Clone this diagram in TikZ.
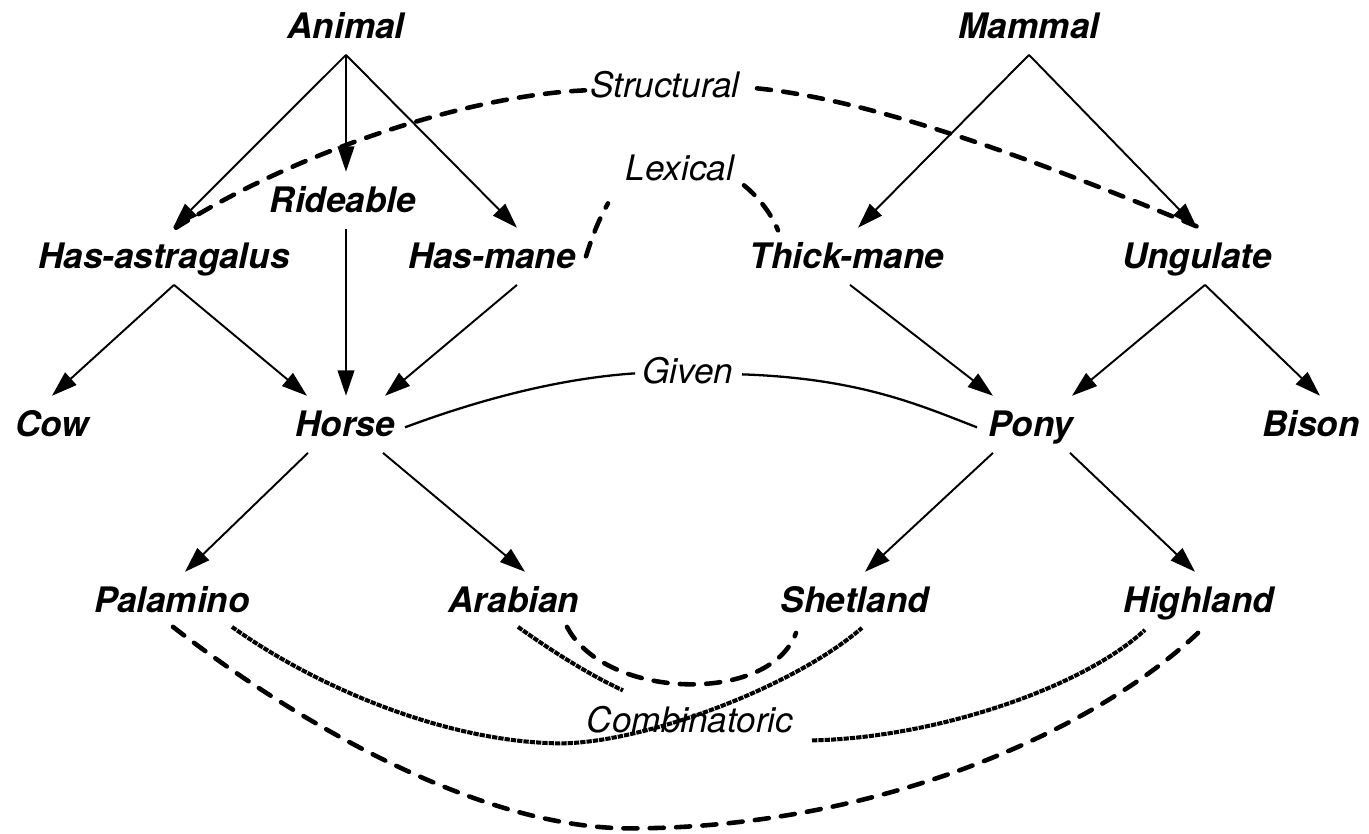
\documentclass[tikz,border=0pt]{standalone}
\usepackage{fontspec}
\setmainfont{TeX Gyre Heros}
\usetikzlibrary{arrows.meta,calc}
\begin{document}
\begin{tikzpicture}[x=0.02cm,y=-0.02cm,
  concept/.style={font=\fontsize{20}{24}\selectfont\bfseries\itshape,
    inner sep=0pt, outer xsep=0pt, outer ysep=8.5pt,
    text height=14.4pt, text depth=1.1pt, anchor=base},
  relname/.style={font=\fontsize{20}{24}\selectfont\itshape,
    inner sep=0pt, outer sep=0pt, text height=14.4pt, text depth=0pt, anchor=base},
  isa/.style={line width=1.1pt, -{Triangle[length=14.5pt,width=9.5pt]}},
  given/.style={line width=1.3pt},
  coarse/.style={line width=2.6pt, line cap=round, dash pattern=on 8pt off 7pt},
  fine/.style={line width=2.3pt, dash pattern=on 3pt off 0.6pt},
]
\useasboundingbox (0,0) rectangle (1369,833);

% concepts
\node[concept] (Animal)    at (346,38)  {Animal};
\node[concept] (Mammal)    at (1029,38) {Mammal};
\node[concept] (Rideable)  at (343,212) {Rideable};
\node[concept] (HasA)      at (164,268) {Has-astragalus};
\node[concept] (HasMane)   at (492,268) {Has-mane};
\node[concept] (ThickMane) at (847,268) {Thick-mane};
\node[concept] (Ungulate)  at (1197,268) {Ungulate};
\node[concept] (Cow)       at (52,436)  {Cow};
\node[concept] (Horse)     at (345,436) {Horse};
\node[concept] (Pony)      at (1031,436) {Pony};
\node[concept] (Bison)     at (1311,436) {Bison};
\node[concept] (Palamino)  at (172,612) {Palamino};
\node[concept] (Arabian)   at (514,612) {Arabian};
\node[concept] (Shetland)  at (855,612) {Shetland};
\node[concept] (Highland)  at (1199,612) {Highland};

% relation names
\node[relname] (Structural)   at (665,97)  {Structural};
\node[relname] (Lexical)      at (680,180) {Lexical};
\node[relname] (Given)        at (688,383) {Given};
\node[relname] (Combinatoric) at (690,732) {Combinatoric};

% is-a links
\draw[isa] (Animal.south) -- ($(HasA.north)+(9,0)$);
\draw[isa] (Animal.south) -- ($(Rideable.north)+(3,0)$);
\draw[isa] (Animal.south) -- ($(HasMane.north)+(25,0)$);
\draw[isa] (Mammal.south) -- ($(ThickMane.north)+(11,0)$);
\draw[isa] (Mammal.south) -- (Ungulate.north);
\draw[isa] ($(HasA.south)+(10,0)$) -- (Cow.north);
\draw[isa] ($(HasA.south)+(10,0)$) -- ($(Horse.north)+(-38,0)$);
\draw[isa] ($(Rideable.south)+(3,0)$) -- ($(Horse.north)+(1,0)$);
\draw[isa] ($(HasMane.south)+(25,0)$) -- ($(Horse.north)+(40,0)$);
\draw[isa] ($(ThickMane.south)+(3,0)$) -- ($(Pony.north)+(-38,0)$);
\draw[isa] ($(Ungulate.south)+(8,0)$) -- ($(Pony.north)+(41,0)$);
\draw[isa] ($(Ungulate.south)+(8,0)$) -- ($(Bison.north)+(9,0)$);
\draw[isa] ($(Horse.south)+(-37,0)$) -- ($(Palamino.north)+(13,0)$);
\draw[isa] ($(Horse.south)+(38,0)$) -- ($(Arabian.north)+(11,0)$);
\draw[isa] ($(Pony.south)+(-38,0)$) -- ($(Shetland.north)+(10,0)$);
\draw[isa] ($(Pony.south)+(39,0)$) -- ($(Highland.north)+(-4,0)$);

% given similarity
\draw[given] ($(Horse.center)+(60,3)$) .. controls +(75,-28) and +(-75,5) .. ($(Given.center)+(-53,3)$);
\draw[given] ($(Given.center)+(54,4)$) .. controls +(118,4) and +(-57,-22) .. ($(Pony.center)+(-54,3)$);

% structural similarity
\draw[coarse] ($(HasA.north)+(12,0)$) .. controls +(124,-78) and +(-115,5) .. ($(Structural.center)+(-80,6)$);
\draw[coarse] ($(Structural.center)+(92,4)$) .. controls +(123,12) and +(-140,-58) .. ($(Ungulate.north)+(3,0)$);

% lexical similarity
\draw[coarse] ($(HasMane.center)+(94,0)$) .. controls +(7,-22) and +(-10,18) .. ($(Lexical.center)+(-72,36)$);
\draw[coarse] ($(Lexical.center)+(64,18)$) .. controls +(16,13) and +(-6,-15) .. ($(ThickMane.center)+(-69,-26)$);

% combinatoric similarities
\draw[coarse] ($(Arabian.south)+(53,-2)$) .. controls +(38,73) and +(-26,72) .. ($(Shetland.south)+(-59,4)$);
\draw[coarse] ($(Palamino.south)+(1,-2)$) .. controls +(107,83) and +(-160,0) .. ($(Combinatoric.center)+(-60,109)$)
  .. controls +(240,0) and +(-108,102) .. ($(Highland.south)+(-1,4)$);
\draw[fine] ($(Arabian.south)+(4,-2)$) .. controls +(32,23) and +(-33,-15) .. ($(Combinatoric.center)+(-67,-29)$);
\draw[fine] ($(Combinatoric.center)+(122,21)$) .. controls +(118,-2) and +(-65,60) .. ($(Highland.south)+(-54,1)$);
\draw[fine] ($(Palamino.south)+(60,-2)$) .. controls +(88,63) and +(-110,-1) .. ($(Combinatoric.center)+(-130,24)$)
  .. controls +(80,0) and +(-72,62) .. ($(Shetland.south)+(7,-1)$);
\end{tikzpicture}
\end{document}
